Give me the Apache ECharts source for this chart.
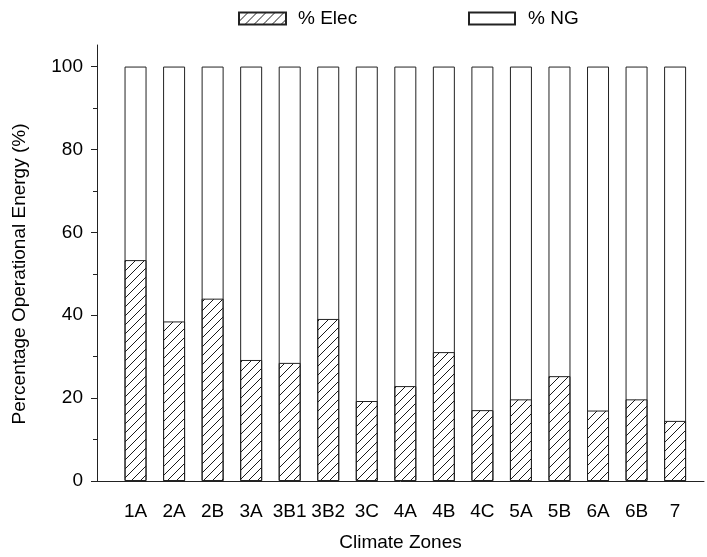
<!DOCTYPE html>
<html>
<head>
<meta charset="utf-8">
<script src="https://cdn.jsdelivr.net/npm/echarts@6/dist/echarts.min.js"></script>
<style>
  html, body { margin: 0; padding: 0; background: #fff; }
  #chart { width: 707px; height: 557px; }
</style>
</head>
<body>
<div id="chart"></div>
<script>
// Climate zones along the horizontal axis
const zones = ['1A', '2A', '2B', '3A', '3B1', '3B2', '3C', '4A', '4B', '4C', '5A', '5B', '6A', '6B', '7'];
// Share of operational energy from electricity (%)
const elecShare = [53.3, 38.5, 44.0, 29.2, 28.5, 39.1, 19.3, 22.9, 31.1, 17.1, 19.7, 25.3, 17.0, 19.7, 14.5];
// Share of operational energy from natural gas (%)
const ngShare = [46.7, 61.5, 56.0, 70.8, 71.5, 60.9, 80.7, 77.1, 68.9, 82.9, 80.3, 74.7, 83.0, 80.3, 85.5];
// Labelled y ticks and the unlabelled ones between them
const majorTicks = [0, 20, 40, 60, 80, 100];
const minorTicks = [10, 30, 50, 70, 90];

// Diagonal hatch tile for the electricity bars
function makeHatch(size, color) {
  const c = document.createElement('canvas');
  c.width = size; c.height = size;
  const ctx = c.getContext('2d');
  ctx.strokeStyle = color;
  ctx.lineWidth = 1;
  ctx.beginPath();
  ctx.moveTo(-1, size + 1); ctx.lineTo(size + 1, -1);
  ctx.moveTo(-2, 2); ctx.lineTo(2, -2);
  ctx.moveTo(size - 2, size + 2); ctx.lineTo(size + 2, size - 2);
  ctx.stroke();
  return c;
}
const hatch = makeHatch(9, '#1a1a1a');

const FONT = '"Liberation Sans", Arial, sans-serif';
const AXIS_COLOR = '#222';
const positions = zones.map((_, i) => i + 1);

const chart = echarts.init(document.getElementById('chart'), null, { renderer: 'canvas' });

chart.setOption({
  animation: false,
  backgroundColor: '#fff',
  textStyle: { fontFamily: FONT, color: '#000' },
  legend: [
    {
      data: ['% Elec'], left: 238, top: 9, padding: 0, icon: 'rect',
      itemWidth: 47, itemHeight: 12,
      textStyle: { fontFamily: FONT, fontSize: 19, color: '#000', padding: [0, 0, 0, 7] }
    },
    {
      data: ['% NG'], left: 468, top: 9, padding: 0, icon: 'rect',
      itemWidth: 46, itemHeight: 12,
      textStyle: { fontFamily: FONT, fontSize: 19, color: '#000', padding: [0, 0, 0, 8] }
    }
  ],
  grid: { left: 97, right: 0, top: 45, bottom: 74.3, containLabel: false },
  xAxis: {
    type: 'value',
    min: 0, max: 15.75, interval: 1,
    name: 'Climate Zones', nameLocation: 'middle', nameGap: 52,
    nameTextStyle: { fontFamily: FONT, fontSize: 19, color: '#000' },
    splitLine: { show: false },
    axisTick: { show: false },
    axisLine: { show: true, onZero: false, lineStyle: { color: AXIS_COLOR, width: 1 } },
    axisLabel: {
      fontFamily: FONT, fontSize: 19, color: '#000', margin: 21,
      showMinLabel: true, showMaxLabel: true,
      formatter: v => (Number.isInteger(v) && v >= 1 && v <= zones.length) ? zones[v - 1] : ''
    }
  },
  yAxis: [
    {
      type: 'value', min: 0, max: 105.2,
      name: 'Percentage Operational Energy (%)', nameLocation: 'middle', nameGap: 68,
      nameRotate: 90,
      nameTextStyle: { fontFamily: FONT, fontSize: 19, color: '#000', padding: [0, 22, 0, 0] },
      splitLine: { show: false },
      axisLine: { show: true, lineStyle: { color: AXIS_COLOR, width: 1 } },
      axisTick: { show: true, inside: false, length: 6, customValues: majorTicks, lineStyle: { color: AXIS_COLOR } },
      axisLabel: { fontFamily: FONT, fontSize: 19, color: '#000', margin: 14, customValues: majorTicks }
    },
    {
      type: 'value', min: 0, max: 105.2, position: 'left',
      splitLine: { show: false },
      axisLine: { show: false },
      axisTick: { show: true, inside: false, length: 4, customValues: minorTicks, lineStyle: { color: AXIS_COLOR } },
      axisLabel: { show: false }
    }
  ],
  series: [
    {
      // Full column: electricity share plus natural gas share on top
      name: '% NG', type: 'bar', barWidth: 22, yAxisIndex: 0, z: 2,
      itemStyle: { color: '#fff', borderColor: '#222', borderWidth: 1 },
      data: positions.map((x, i) => [x, elecShare[i] + ngShare[i]])
    },
    {
      name: '% Elec', type: 'bar', barWidth: 22, barGap: '-100%', yAxisIndex: 0, z: 3,
      itemStyle: { color: { image: hatch, repeat: 'repeat' }, borderColor: '#222', borderWidth: 1 },
      data: positions.map((x, i) => [x, elecShare[i]])
    }
  ]
});
</script>
</body>
</html>
